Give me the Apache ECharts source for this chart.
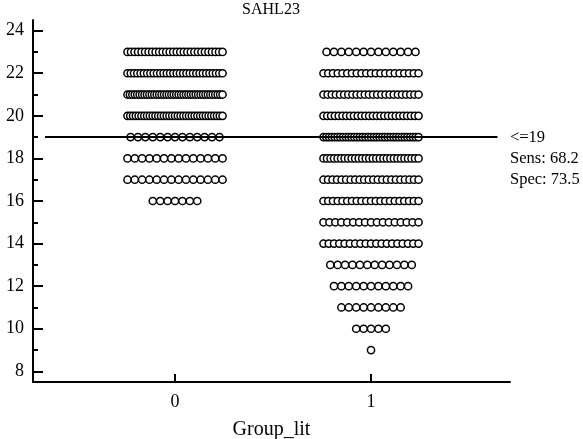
<!DOCTYPE html>
<html>
<head>
<meta charset="utf-8">
<script src="https://cdn.jsdelivr.net/npm/echarts@6/dist/echarts.min.js"></script>
<style>html,body{margin:0;padding:0;background:#fff}#c{width:583px;height:439px}</style>
</head>
<body>
<div id="c"></div>
<script>
// ---- data ----
const chartTitle = 'SAHL23';
const xName = 'Group_lit';
const groups = [0, 1];
const rowValues    = [23, 22, 21, 20, 19, 18, 17, 16, 15, 14, 13, 12, 11, 10, 9];
const group0Counts = [28, 30, 40, 35, 13, 14, 14,  7,  0,  0,  0,  0,  0,  0, 0];
const group1Counts = [13, 21, 24, 26, 35, 28, 22, 21, 17, 19, 12, 11,  9,  5, 1];
const yTicksMajor = [8, 10, 12, 14, 16, 18, 20, 22, 24];
const yTicksMinor = [9, 11, 13, 15, 17, 19, 21, 23];
const cutValue = 19;
const annotation = ['<=19', 'Sens: 68.2', 'Spec: 73.5'];

// ---- layout of dot rows (in x data units) ----
const STEP = 0.0378;   // spacing between neighbouring dots
const SPAN = 0.485;    // maximum row width (centre to centre)

function dots(center, counts) {
  const out = [];
  counts.forEach((n, i) => {
    if (!n) return;
    const step = n > 1 ? Math.min(STEP, SPAN / (n - 1)) : 0;
    for (let j = 0; j < n; j++) {
      out.push([center + (j - (n - 1) / 2) * step, rowValues[i]]);
    }
  });
  return out;
}

const font = 'Liberation Serif, Times New Roman, serif';
const chart = echarts.init(document.getElementById('c'), null, {renderer: 'canvas'});

const dotStyle = {color: '#fff', borderColor: '#000', borderWidth: 1.5, opacity: 1};

chart.setOption({
  animation: false,
  backgroundColor: '#fff',
  grid: {left: 33, right: 73, top: 20, bottom: 57, containLabel: false, outerBoundsMode: 'none'},
  graphic: [
    {type: 'text', x: 271, y: 2, style: {text: chartTitle, font: '16px ' + font, fill: '#000', textAlign: 'center'}},
    {type: 'text', x: 510, y: 127, style: {text: annotation.join('\n'), font: '16.5px ' + font, fill: '#000', lineHeight: 21}}
  ],
  xAxis: {
    type: 'value', min: -0.7245, max: 1.709,
    name: xName, nameLocation: 'middle', nameGap: 38,
    nameTextStyle: {fontFamily: font, fontSize: 20, color: '#000'},
    axisLine: {show: true, onZero: false, lineStyle: {color: '#000', width: 2}},
    axisTick: {show: true, inside: true, length: 8, customValues: groups, lineStyle: {color: '#000', width: 2}},
    axisLabel: {show: true, customValues: groups, margin: 11, fontFamily: font, fontSize: 18, color: '#000'},
    splitLine: {show: false}
  },
  yAxis: [{
    type: 'value', min: 7.5, max: 24.5, position: 'left',
    axisLine: {show: true, onZero: false, lineStyle: {color: '#000', width: 2}},
    axisTick: {show: true, inside: true, length: 10, customValues: yTicksMajor, lineStyle: {color: '#000', width: 2}},
    axisLabel: {show: true, customValues: yTicksMajor, margin: 9, fontFamily: font, fontSize: 18, color: '#000'},
    splitLine: {show: false}
  }, {
    type: 'value', min: 7.5, max: 24.5, position: 'left', offset: 0,
    axisLine: {show: false, onZero: false},
    axisTick: {show: true, inside: true, length: 5, customValues: yTicksMinor, lineStyle: {color: '#000', width: 2}},
    axisLabel: {show: false},
    splitLine: {show: false}
  }],
  series: [
    {
      type: 'scatter', yAxisIndex: 0, data: [], z: 1, silent: true,
      markLine: {
        silent: true, symbol: 'none', animation: false,
        label: {show: false},
        lineStyle: {color: '#000', width: 2, type: 'solid'},
        data: [[{coord: [-0.663, cutValue]}, {coord: [1.645, cutValue]}]]
      }
    },
    {type: 'scatter', yAxisIndex: 0, z: 2, symbol: 'circle', symbolSize: 7.2, itemStyle: dotStyle, data: dots(groups[0], group0Counts)},
    {type: 'scatter', yAxisIndex: 0, z: 2, symbol: 'circle', symbolSize: 7.2, itemStyle: dotStyle, data: dots(groups[1], group1Counts)}
  ]
});
</script>
</body>
</html>
